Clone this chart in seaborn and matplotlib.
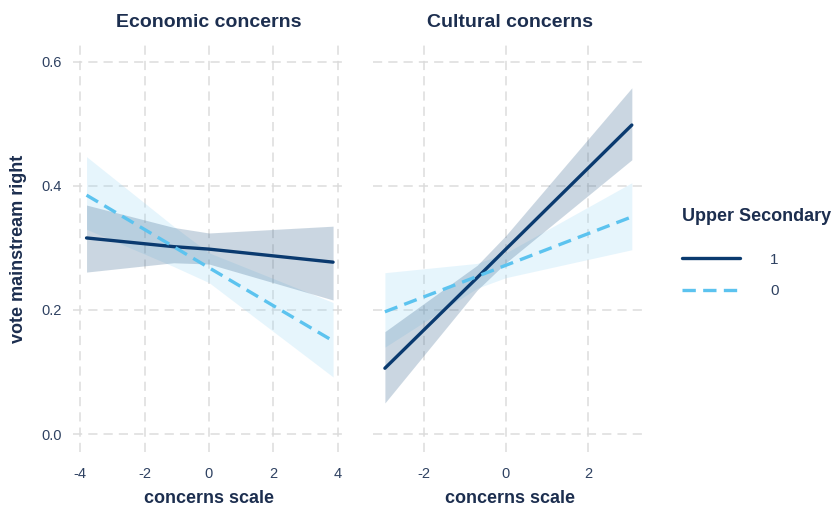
import numpy as np
import pandas as pd
import matplotlib
matplotlib.use("Agg")
import matplotlib.pyplot as plt
from matplotlib.lines import Line2D
import seaborn as sns

sns.set_theme(style="white")
plt.rcParams["font.family"] = ["Liberation Sans", "DejaVu Sans"]

TEXT = "#1c2e4f"
TICK = "#2f4262"
NAVY = "#0a3a6f"
LIGHT = "#5cc3ef"
BAND_DARK = "#2f5f8a"
BAND_LIGHT = "#8fd3f5"

panels = ["Economic concerns", "Cultural concerns"]
groups = ["1", "0"]

# predicted probabilities with confidence bands, per panel and group
econ_x = [-3.8, -1.1, 0.0, 3.85]
econ_fit_1 = [0.316, 0.302, 0.298, 0.277]
econ_lo_1 = [0.261, 0.276, 0.274, 0.216]
econ_hi_1 = [0.369, 0.333, 0.324, 0.335]
econ_fit_0 = [0.385, 0.302, 0.268, 0.150]
econ_lo_0 = [0.330, 0.270, 0.244, 0.092]
econ_hi_0 = [0.447, 0.335, 0.292, 0.212]

cult_x = [-2.95, -0.7, 0.0, 3.07]
cult_fit_1 = [0.106, 0.252, 0.298, 0.498]
cult_lo_1 = [0.050, 0.232, 0.276, 0.442]
cult_hi_1 = [0.165, 0.272, 0.320, 0.558]
cult_fit_0 = [0.197, 0.254, 0.272, 0.350]
cult_lo_0 = [0.140, 0.235, 0.252, 0.297]
cult_hi_0 = [0.260, 0.275, 0.292, 0.405]

rows = []
for panel, xs, series in [
    (panels[0], econ_x, {"1": (econ_fit_1, econ_lo_1, econ_hi_1),
                         "0": (econ_fit_0, econ_lo_0, econ_hi_0)}),
    (panels[1], cult_x, {"1": (cult_fit_1, cult_lo_1, cult_hi_1),
                         "0": (cult_fit_0, cult_lo_0, cult_hi_0)}),
]:
    for g, (fit, lo, hi) in series.items():
        for x, f, l, h in zip(xs, fit, lo, hi):
            rows.append(dict(panel=panel, group=g, x=x, fit=f, lo=l, hi=h))
df = pd.DataFrame(rows)

palette = {"1": NAVY, "0": LIGHT}
bands = {"1": (BAND_DARK, 0.25), "0": (BAND_LIGHT, 0.22)}
dashes = {"1": "", "0": (4, 2.2)}

fig = plt.figure(figsize=(8.36, 5.12), dpi=100)
ax1 = fig.add_axes([73 / 836, 1 - 452 / 512, 272 / 836, 407 / 512])
ax2 = fig.add_axes([373 / 836, 1 - 452 / 512, 274 / 836, 407 / 512], sharey=ax1)

xlims = [(-4.22, 4.22), (-3.24, 3.44)]
xticks = [[-4, -2, 0, 2, 4], [-2, 0, 2]]

for ax, panel, xl, xt in zip([ax1, ax2], panels, xlims, xticks):
    d = df[df.panel == panel]
    for g in ["0", "1"]:
        s = d[d.group == g]
        c, a = bands[g]
        ax.fill_between(s.x, s.lo, s.hi, color=c, alpha=a, linewidth=0, zorder=2)
    sns.lineplot(data=d, x="x", y="fit", hue="group", style="group",
                 hue_order=groups, style_order=groups, palette=palette,
                 dashes=dashes, linewidth=2.4, ax=ax, legend=False, zorder=3)
    ax.set_xlim(*xl)
    ax.set_ylim(-0.029, 0.627)
    ax.set_xticks(xt)
    ax.set_xticklabels([str(v) for v in xt])
    ax.set_yticks([0.0, 0.2, 0.4, 0.6])
    ax.grid(True, color="#dcdcdc", linestyle=(0, (6, 4)), linewidth=1.1, zorder=0)
    ax.set_axisbelow(True)
    for sp in ax.spines.values():
        sp.set_visible(False)
    ax.tick_params(axis="both", length=0, labelsize=10.5, labelcolor=TICK, pad=11)
    ax.set_title(panel, fontsize=14, fontweight="bold", color=TEXT, pad=13)
    ax.set_xlabel("concerns scale", fontsize=13, fontweight="bold", color=TEXT, labelpad=6)
    ax.set_ylabel("")

ax1.set_yticklabels(["0.0", "0.2", "0.4", "0.6"])
ax1.tick_params(axis="y", pad=8)
ax2.tick_params(axis="y", labelleft=False)
ax1.set_ylabel("vote mainstream right", fontsize=13, fontweight="bold", color=TEXT, labelpad=10)

# legend
handles = [Line2D([], [], color=NAVY, lw=2.4),
           Line2D([], [], color=LIGHT, lw=2.4, dashes=(4, 2.2))]
leg = fig.legend(handles, ["1", "0"], title="Upper Secondary",
                 loc="upper left", bbox_to_anchor=(668 / 836, 1 - 194 / 512),
                 frameon=False, fontsize=11, handlelength=3.8, handletextpad=2.0,
                 labelspacing=1.15, alignment="left")
leg._legend_box.sep = 20
leg.get_title().set_fontweight("bold")
leg.get_title().set_fontsize(13)
leg.get_title().set_color(TEXT)
for t in leg.get_texts():
    t.set_color(TICK)

fig.savefig("out.png", dpi=100)
